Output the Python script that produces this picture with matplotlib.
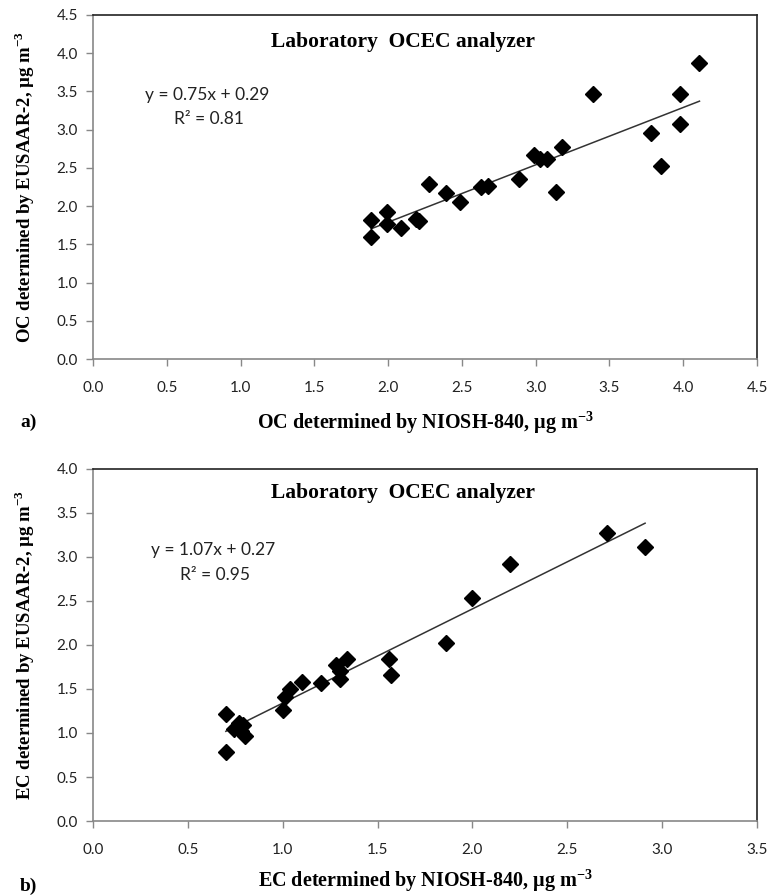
import matplotlib
matplotlib.use("Agg")
import matplotlib.pyplot as plt
import numpy as np

plt.rcParams['mathtext.fontset'] = 'custom'
plt.rcParams['mathtext.rm'] = 'Liberation Serif'
plt.rcParams['mathtext.bf'] = 'Liberation Serif:bold'

# Panel a) OC
oc_niosh = [1.885, 1.885, 1.99, 1.99, 2.09, 2.19, 2.21, 2.28, 2.39, 2.49, 2.63, 2.68,
            2.89, 2.99, 3.03, 3.08, 3.14, 3.18, 3.39, 3.78, 3.85, 3.98, 3.98, 4.11]
oc_eusaar = [1.82, 1.60, 1.92, 1.76, 1.71, 1.83, 1.81, 2.29, 2.17, 2.06, 2.25, 2.26,
             2.36, 2.67, 2.62, 2.61, 2.18, 2.77, 3.47, 2.96, 2.53, 3.47, 3.07, 3.87]
oc_slope, oc_icpt, oc_r2 = 0.75, 0.29, 0.81

# Panel b) EC
ec_niosh = [0.70, 0.70, 0.745, 0.77, 0.78, 0.79, 0.80, 1.00, 1.01, 1.04, 1.10, 1.20,
            1.28, 1.30, 1.30, 1.34, 1.56, 1.57, 1.86, 2.00, 2.20, 2.71, 2.91]
ec_eusaar = [1.22, 0.78, 1.04, 1.11, 1.02, 1.09, 0.97, 1.26, 1.41, 1.50, 1.58, 1.57,
             1.77, 1.71, 1.61, 1.84, 1.84, 1.66, 2.02, 2.53, 2.92, 3.27, 3.11]
ec_slope, ec_icpt, ec_r2 = 1.07, 0.27, 0.95

a_xticks = [0.0, 0.5, 1.0, 1.5, 2.0, 2.5, 3.0, 3.5, 4.0, 4.5]
a_yticks = [0.0, 0.5, 1.0, 1.5, 2.0, 2.5, 3.0, 3.5, 4.0, 4.5]
b_xticks = [0.0, 0.5, 1.0, 1.5, 2.0, 2.5, 3.0, 3.5]
b_yticks = [0.0, 0.5, 1.0, 1.5, 2.0, 2.5, 3.0, 3.5, 4.0]

fig = plt.figure(figsize=(7.72, 8.96), dpi=100)
ax1 = fig.add_axes([0.1205, 0.5993, 0.8601, 0.3840])
ax2 = fig.add_axes([0.1205, 0.0837, 0.8601, 0.3929])

serif_bold = dict(family='Liberation Serif', fontweight='bold')
tick_font = 'Lato'

def style(ax, xt, yt):
    ax.set_xlim(xt[0], xt[-1])
    ax.set_ylim(yt[0], yt[-1])
    ax.set_xticks(xt)
    ax.set_yticks(yt)
    ax.set_xticklabels([f"{v:.1f}" for v in xt])
    ax.set_yticklabels([f"{v:.1f}" for v in yt])
    for lab in ax.get_xticklabels() + ax.get_yticklabels():
        lab.set_fontfamily(tick_font)
        lab.set_fontsize(11)
        lab.set_color('#222222')
    ax.tick_params(direction='out', length=5, width=1, color='#888888')
    ax.tick_params(axis='x', pad=11)
    ax.tick_params(axis='y', pad=6)
    ax.spines['left'].set_color('#888888')
    ax.spines['bottom'].set_color('#888888')
    ax.spines['top'].set_color('#222222')
    ax.spines['right'].set_color('#222222')
    for s in ax.spines.values():
        s.set_linewidth(1.2)

def panel(ax, x, y, slope, icpt, r2, xt, yt, eqx, eqy, ty, xlabel, ylabel, tag, xpad):
    style(ax, xt, yt)
    ax.plot(x, y, linestyle='none', marker='D', markersize=8, color='black', zorder=3)
    xl = np.array([min(x), max(x)])
    ax.plot(xl, slope * xl + icpt, color='#333333', lw=1.1, zorder=2)
    ax.text(eqx, eqy, f"y = {slope:.2f}x + {icpt:.2f}", transform=ax.transAxes,
            ha='center', va='center', fontsize=12.5, family='Lato', color='#222222')
    ax.text(eqx + 0.003, eqy - 0.07, f"R² = {r2:.2f}", transform=ax.transAxes,
            ha='center', va='center', fontsize=12.5, family='Lato', color='#222222')
    ax.text(0.467, ty, "Laboratory  OCEC analyzer", transform=ax.transAxes,
            ha='center', va='center', fontsize=15.5, **serif_bold)
    ax.set_xlabel(xlabel, fontsize=14.5, labelpad=xpad, **serif_bold)
    ax.set_ylabel(ylabel, fontsize=13.5, labelpad=14, **serif_bold)
    ax.text(-0.11, -0.185, tag, transform=ax.transAxes, ha='left', va='center',
            fontsize=14, **serif_bold)

panel(ax1, oc_niosh, oc_eusaar, oc_slope, oc_icpt, oc_r2, a_xticks, a_yticks,
      0.172, 0.767, 0.92,
      r"OC determined by NIOSH-840, µg m$^{\mathbf{-3}}$",
      r"OC determined by EUSAAR-2, µg m$^{\mathbf{-3}}$", "a)", 10)
panel(ax2, ec_niosh, ec_eusaar, ec_slope, ec_icpt, ec_r2, b_xticks, b_yticks,
      0.181, 0.77, 0.932,
      r"EC determined by NIOSH-840, µg m$^{\mathbf{-3}}$",
      r"EC determined by EUSAAR-2, µg m$^{\mathbf{-3}}$", "b)", 7)

fig.savefig("out.png", dpi=100)
